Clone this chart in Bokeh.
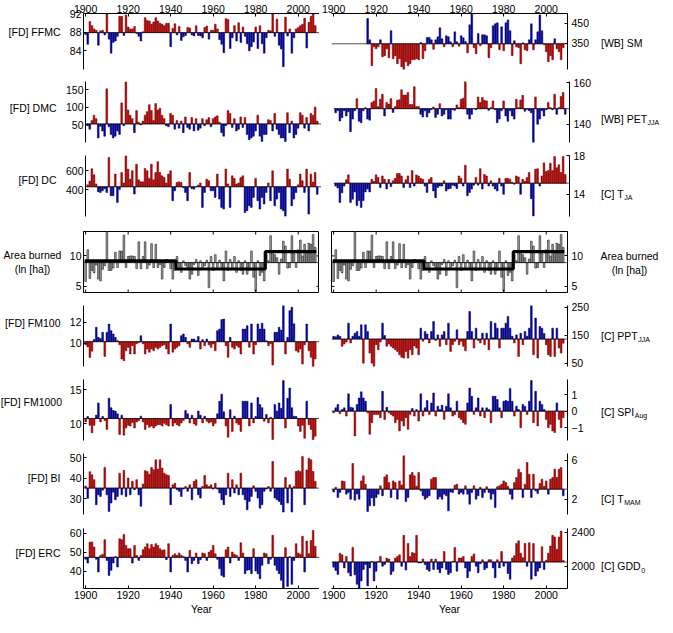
from bokeh.plotting import figure
from bokeh.layouts import row, column
from bokeh.models import Range1d, Span, FixedTicker
from bokeh.core.properties import value
from bokeh.embed import file_html
from bokeh.resources import INLINE

# ------------------------------------------------------------------ data
YEARS = list(range(1900, 2009))
SM_YEARS = list(range(1916, 2009))
XTICKS = [1900, 1920, 1940, 1960, 1980, 2000]

# [FD] FFMC anomalies (mean 87.9)
FFMC_MEAN = 87.9
FFMC = [-0.4, -2.5, 2.4, 1.5, 0.8, 0.5, -2.7, 0.4, 0.5, -0.5,
        4.4, -1.4, -4.4, -2.1, -1.8, -0.8, 3.5, 3.5, -0.6, 3.8,
        1.2, 0.8, 0.8, 1.3, -0.2, -0.8, -1.8, 0.2, 3.2, 2.6,
        2.5, 1.8, 2.3, 3.2, 2.5, 2.0, 1.8, 1.5, 2.0, 2.0,
        -3.0, 0.9, 1.9, -0.5, 1.3, -1.7, -0.9, -0.6, 1.1, 1.0,
        -0.5, -0.7, 1.5, -0.6, -0.7, -1.1, 1.1, 1.4, -1.4, 0.5,
        0.5, 1.8, 0.8, -1.5, -2.5, -4.3, 3.0, 2.8, -3.4, -1.1,
        1.5, -1.8, 2.1, -2.1, 1.2, -0.8, -2.4, -3.9, -3.0, -2.0,
        1.2, -3.4, 1.5, -2.4, -4.4, -1.1, 0.5, 0.4, 4.1, -0.8,
        2.9, -2.7, -3.5, -7.3, 3.3, -0.7, 0.8, -4.4, -1.1, 0.8,
        1.1, 1.5, 1.8, 3.1, -3.3, 2.2, 3.5, 4.1, 1.5]

# [WB] SM anomalies 1916-2008 (mean 348)
SM_MEAN = 348
SM = [127, 20, -110, -15,
      -25, -15, 20, -65, -60, -25, -70, 66, -75, -60,
      -100, -75, -115, -130, -90, -110, -100, -80, -80, -75,
      -80, 6, -75, -35, 32, 32, 20, -28, 20, 35,
      80, 25, -15, 40, 35, 10, -15, 60, 10, -12,
      40, 30, 12, -45, 95, 150, -20, -50, 52, -10,
      45, 45, 40, -70, -20, 90, 100, 105, -30, 85,
      -35, 105, 120, 65, -60, 15, -15, -20, -100, 5,
      -30, -35, 20, 100, -30, 20, 60, 145, 65, -5,
      -40, -90, -60, -80, 25, -25, -40, -80, -20]

# [FD] DMC anomalies (mean 53)
DMC_MEAN = 53
DMC = [-5, -15, 10, 25, 15, -40, -7, -20, -35, 100,
       -8, -30, -40, -35, -20, -30, 60, -5, 120, 40,
       25, 15, -25, 38, 5, -3, 8, 25, 35, 55,
       38, 10, 58, 40, 45, 25, 15, -5, -8, 30,
       25, -15, 10, -12, 8, -25, 20, -10, -15, 18,
       -20, 15, -18, -12, 15, -5, 12, 18, -8, 15,
       20, 23, 5, -25, -35, -5, 38, 30, -10, 15,
       -20, -15, 20, -10, 18, -30, -45, -40, -35, -20,
       25, -35, -50, -30, -30, 12, 10, -20, 30, -15,
       -30, -40, -40, -50, 32, -25, 8, -40, -30, -12,
       32, 25, -12, 18, -20, 30, 25, 48, 8]

# [WB] PET_JJA anomalies (mean 147.5)
PET_MEAN = 147.5
PET = [-2, -1, -5.9, -4.3, -1, -3.5, -1.5, -11, -5, -1,
       4.8, -6, -6.7, -1, 0.5, -5, -5.5, 2.9, 3.7, 9.7,
       1, 4.5, 6.9, -3.5, 3, 2.2, 4.8, -1.8, 1, 4,
       4.3, 9, 6.5, 6.5, 7.7, 2, 2, 10.5, 1, 1,
       -2.7, -4, -1, -4, -2, -0.5, 0.8, -4.2, -2.7, 2.4,
       -3.5, -2.7, -0.5, -5, -5, -0.5, -0.8, 1.8, 0.5, 4.5,
       5, 13, -2.7, -5, -2.7, 0, -0.5, 5.6, 3, 5.3,
       4, 3.7, -0.8, 0.5, 3.7, -0.5, -6.7, -5, -1, 3.7,
       -3.5, -6, -1, -3.5, -5, 4.5, 0.5, 4.2, 6.4, -1.2,
       -0.3, -1, -2, -16.3, 5.6, -7.5, -5, -1, -3.5, -0.5,
       3, 0.5, -0.5, 6.9, -2.7, 0.5, 5.8, 7.7, -2.7]

# [FD] DC anomalies (mean 430)
DC_MEAN = 430
DC = [20, 60, 190, 126, 30, -52, -60, -42, -20, -60,
      308, -95, -95, 133, -165, -30, 150, 40, 326, 186,
      80, 168, -77, 238, 73, 52, 52, 192, 168, 88,
      238, 73, 150, 263, 150, 115, 98, 40, 133, 168,
      -147, -42, 45, 52, 45, -10, -60, -147, 150, -20,
      -25, 0, 18, 40, -217, -60, 80, 63, -42, -42,
      -112, 133, -130, -217, -235, 186, 30, -217, 115, 88,
      28, 40, 98, 115, -270, -252, -200, -217, -112, 88,
      -147, -235, -112, -182, -60, 40, -147, 168, -200, -130,
      -60, -235, -252, -311, 186, 80, -200, -130, -60, 20,
      133, 63, -60, 186, -288, 133, 50, 150, -80]

# [C] T_JA anomalies (mean 15.14)
TJA_MEAN = 15.14
TJA = [-0.3, -0.5, -2.0, -1.0, -0.3, 0.35, 0.86, -2.0, -1.65, -0.9,
       -2.3, -1.8, -2.5, -1.8, -0.9, -0.6, -0.9, 0.4, 0.2, 0.86,
       0.6, -0.45, 0.75, 0.4, -0.6, 0.4, -0.35, 0.25, 0.5, 1.0,
       1.0, 0.75, -0.45, 0.35, 0.75, -0.45, 1.3, -0.3, 0.85, 0.75,
       0.5, 0.4, -0.3, -0.95, 0.4, 0.6, -0.8, -1.5, -0.45, -0.3,
       -0.3, 0.25, -0.8, -0.6, -0.55, -0.2, -0.3, -0.55, 0.75, 0.5,
       -0.3, 1.86, -1.3, -0.95, -0.6, -0.2, 0.6, -0.2, 1.5, -0.6,
       0.9, 0.75, -0.3, 0.25, -0.3, -0.6, -0.8, 0.5, -0.3, -1.15,
       0.5, 0.5, 0.4, 0.1, -0.1, 0.75, 0.65, -1.15, 0.4, 0.2,
       0.6, 1.1, -1.6, -3.4, 1.44, 1.5, -0.3, 0.75, 2.1, 1.2,
       1.3, 2.06, 1.3, 2.75, 1.6, 1.9, 1.1, 2.75, 0.9]

# Area burned, ln[ha] (values), with regime means
AREA_BASE = 8.9
AREA = [5.8, 11.0, 6.3, 7.6, 7.2, 8.5, 6.2, 5.9, 7.8, 8.4,
        14.0, 7.6, 7.6, 8.0, 10.6, 8.1, 10.8, 10.8, 13.4, 8.1,
        9.9, 10.0, 10.0, 9.9, 7.9, 12.3, 7.9, 9.9, 12.3, 7.9,
        8.5, 12.0, 8.1, 11.9, 8.1, 8.6, 6.2, 8.1, 9.4, 9.0,
        7.9, 6.2, 7.6, 9.9, 8.1, 7.3, 9.2, 8.4, 7.9, 6.2,
        7.0, 8.6, 9.4, 6.8, 9.2, 7.9, 8.4, 9.3, 4.8, 9.9,
        7.6, 10.2, 7.9, 9.3, 8.1, 5.9, 10.8, 7.6, 9.4, 7.9,
        9.9, 7.3, 9.2, 7.6, 7.0, 9.2, 7.0, 7.6, 10.8, 6.5,
        4.2, 9.2, 6.8, 7.3, 5.9, 10.2, 9.2, 13.3, 10.8, 10.2,
        9.7, 7.0, 9.5, 12.4, 11.6, 8.0, 8.1, 13.3, 10.5, 8.1,
        11.0, 12.6, 10.0, 11.9, 10.5, 12.1, 11.9, 13.5, 11.4]
AREA_STEP_EDGES = [1899.5, 1942.5, 1984.5, 2008.5]
AREA_STEP_LEVELS = [9.2, 7.85, 10.7]

# [FD] FM100 anomalies (mean 10.16)
FM100_MEAN = 10.16
FM100 = [-0.3, -0.5, -1.5, -0.9, 0.2, 1.37, 0.41, 0.3, 0.89, -1.4,
         0.89, 1.68, 1.05, 0.73, 0.41, 0.1, -0.3, -1.65, -1.81, -0.86,
         -0.54, -1.17, -0.38, -1.17, -0.2, -0.1, 0.57, -0.2, -1.17, -0.7,
         -1.0, -0.7, -0.86, -0.54, -0.7, -0.54, -0.38, -0.3, -0.7, -1.17,
         1.68, -1.0, -0.7, -0.54, -0.38, 0.57, 0.73, 0.41, -0.2, -0.54,
         0.25, 0.25, 0.1, 0.5, -0.7, 0.19, -0.38, 0.25, -0.3, -0.54,
         -0.22, -0.86, 1.05, 1.2, 2.1, 2.16, -0.38, -1.49, 0.41, -0.54,
         -0.7, -0.38, -0.54, -1.17, 1.2, 1.2, 1.52, -0.54, 1.68, -1.17,
         -0.3, 1.68, 1.2, 1.75, 1.2, 0.1, -0.38, -0.2, -2.22, 0.89,
         0.89, 1.37, 1.1, 3.43, -1.17, 0.4, 2.95, 3.27, 1.7, -0.86,
         -1.0, -0.7, -2.13, -0.3, 1.68, -0.86, -1.49, -2.44, -1.65]

# [C] PPT_JJA anomalies (mean 137)
PPT_MEAN = 137
PPT = [10, 8, 15, 10, -26, -18, -10, 57, -14, 10,
       21, 27, 10, 51, -86, 51, 27, -50, -86, -98,
       -20, -38, -10, 57, 13, -26, -18, -26, -32, -38,
       -44, -56, -65, -68, -44, -68, -38, -56, -25, -32,
       -56, 39, -8, 27, 18, -14, 27, 63, -5, 15,
       -26, 15, 27, -20, 57, -44, -20, -8, 33, -20,
       -8, -26, -42, 27, 99, 27, -32, 39, -5, -14,
       21, -20, 21, -38, 63, 5, 57, 39, -32, 39,
       39, 57, 81, 39, 10, -14, 15, -62, 21, -20,
       27, 10, 39, 122, -56, 75, -68, 45, 39, 20,
       -20, -56, -62, 39, -62, 39, -32, -50, -15]

# [FD] FM1000 anomalies (mean 10.74)
FM1000_MEAN = 10.74
FM1000 = [-0.5, 0.3, -1.0, -2.1, -1.0, 0.5, 2.3, -0.5, 0.3, -0.3,
          -1.6, 3.0, 1.6, 1.2, 1.1, 0.7, -2.35, 0.5, -2.45, -1.4,
          -1.0, -1.1, -0.6, -1.4, -0.5, -0.3, 0.35, -0.5, -1.6, -0.9,
          -1.3, -1.1, -1.4, -1.1, -0.9, -0.9, -1.1, -0.7, -0.9, -1.1,
          2.06, -1.1, -0.65, -0.9, -1.1, -0.65, -0.3, 1.2, 0.7, -0.65,
          0.5, -0.8, -1.0, 1.1, 0.5, -0.65, 0.35, -0.4, -0.65, -0.5,
          -1.1, -0.7, 0.7, 2.55, 3.6, 1.0, -1.1, -2.75, 1.3, -1.9,
          0.35, -0.65, -0.9, -1.9, 2.55, 2.55, 2.55, -1.1, 2.3, -0.65,
          0.3, 3.1, 2.06, 1.6, -0.4, 0.6, -0.65, 0.2, -3.1, 2.06,
          1.1, 2.3, 1.5, 5.6, -1.4, 3.0, 4.5, 1.6, 0.35, 0.3,
          -1.1, -1.9, -1.0, -2.9, 2.55, -0.9, -1.6, -3.1, -2.6]

# [C] SPI_Aug
SPI_MEAN = 0.0
SPI = [-0.1, 0.2, 0.4, -0.16, 0.1, 0.2, -0.3, 1.05, 0.24, 0.2,
       -1.5, 0.4, 0.8, 1.17, 0.8, 0.6, -0.1, -1.4, -0.7, -0.2,
       -0.2, -0.2, -0.4, 1.2, -0.5, 0.24, -0.1, -0.2, -0.3, -0.7,
       -0.5, -1.2, -0.6, -0.9, -0.4, -1.1, -0.2, 0.16, -0.3, 0.1,
       -0.6, 1.05, -0.3, 0.2, 0.65, -0.2, 0.5, 1.1, -0.3, 0.3,
       0.1, 0.36, -0.5, 0.3, 1.05, 0.2, -0.3, -0.2, 0.6, -0.4,
       -0.5, -0.7, -0.8, 0.5, 1.4, 0.9, -0.2, 0.2, 0.8, -0.3,
       0.2, -0.4, 0.2, 0.1, -0.7, 0.9, 0.9, 0.7, 0.2, -0.4,
       0.6, 0.65, 0.6, 1.37, 0.6, -0.3, 0.3, 0.1, -1.0, 0.4,
       0.3, -0.2, 0.6, 1.86, -0.7, 1.2, -0.9, 0.6, 0.4, 0.1,
       -0.5, -1.0, -0.8, -1.2, -1.3, 0.5, -0.5, -1.0, -0.4]

# [FD] BI anomalies (mean 35.1)
BI_MEAN = 35.1
BI = [1.0, -5.0, 8.0, 6.5, 4.1, -8.1, -3.3, -4.1, -1.0, 10.1,
      -3.3, -11.4, -7.3, -2.0, -5.7, -4.1, 7.3, -3.3, 8.6, -4.1,
      4.9, -3.3, 3.3, -0.8, 4.1, -3.3, -8.9, 2.0, 8.5, 8.1,
      6.8, 10.1, 9.0, 13.8, 9.3, 13.8, 9.8, 7.3, 6.5, 6.2,
      -8.1, 1.6, 2.4, -0.8, -1.6, -4.1, -0.5, 0.8, -1.6, 1.6,
      -5.7, 3.3, 4.1, -3.3, -4.9, 0.8, 6.2, 1.6, 0.8, 1.6,
      -0.5, 2.4, -0.5, -2.4, -5.7, -8.1, -3.3, 7.3, -4.1, 4.1,
      -2.4, 1.6, -3.3, 7.3, -3.3, -5.7, -10.6, -6.5, -4.1, 1.1,
      -1.6, -4.9, -9.8, -8.1, -1.6, -0.5, 0.8, -1.6, 13.0, -4.9,
      -5.7, -6.5, -8.1, -11.7, 5.2, -7.3, 1.6, -11.7, 0.8, 8.1,
      8.5, 8.1, 15.4, -8.1, 8.9, 14.6, 13.8, 8.1, 3.3]

# [C] T_MAM anomalies (mean 3.03)
TMAM_MEAN = 3.03
TMAM = [-0.3, 0.2, -0.85, -0.34, 0.85, 0.79, -0.51, -0.34, -1.03, 2.63,
        -1.13, -0.5, -1.03, 0.85, 1.37, 0.51, -2.29, -1.71, -0.9, -1.71,
        -0.85, -0.51, 0.34, -0.68, 1.26, 1.47, 0.68, -0.85, 0.85, 0.68,
        -1.03, 0.85, 0.44, 3.42, -1.26, -0.85, 1.47, 1.71, 1.37, 0.3,
        1.71, -0.17, -0.68, -1.03, -0.85, -0.68, 1.03, 1.2, 1.2, -1.03,
        -0.79, -1.03, -0.51, -0.68, -2.22, -0.3, -0.34, 0.41, 0.51, -0.51,
        -0.34, -0.51, 0.34, -0.51, -1.54, -0.34, 0.34, -1.03, -0.68, 0.2,
        -0.85, -0.34, 0.24, -0.34, -1.03, -0.5, -1.88, 0.24, 0.34, 0.51,
        0.85, 0.68, 0.3, -0.51, -1.03, 0.68, 1.2, 2.05, 1.71, -0.85,
        0.51, 2.74, 1.54, -0.85, 1.54, -0.17, -0.44, 0.58, 1.03, 0.3,
        0.85, -0.51, 1.03, 1.2, 2.05, 1.2, 2.05, 2.22, -0.68]

# [FD] ERC anomalies (mean 47.4)
ERC_MEAN = 47.4
ERC = [-1.0, -3.0, 8.0, 8.1, 5.4, -1.0, -7.7, 1.05, 1.6, 9.3,
       -1.6, -9.5, -6.8, -3.0, 0.5, -5.1, 9.8, 9.3, 12.1, 6.3,
       4.6, 4.6, -3.0, 6.3, 1.05, -1.6, 1.0, 4.0, 5.4, 7.2,
       4.6, 6.8, 5.4, 7.2, 6.3, 4.6, 3.7, 4.0, -1.2, 7.2,
       -7.7, 1.05, 1.9, 1.05, 2.3, 1.05, 0.5, -1.6, -7.7, 3.7,
       -3.3, -1.6, 2.3, -3.3, -1.2, 2.3, 1.9, -1.6, 2.8, 3.7,
       6.3, 1.9, -1.0, -6.0, -9.5, -10.4, 4.0, 5.4, -3.0, 2.8,
       1.6, 1.05, -1.6, 7.7, 2.3, -8.6, -6.8, -6.6, -8.6, 4.6,
       -7.2, -8.6, -11.2, -4.2, 2.3, 1.9, -3.3, -1.0, 11.6, -4.2,
       -6.8, -8.6, -12.1, -18.2, 5.1, -15.3, 0.5, -14.2, -1.6, 7.2,
       2.3, 1.6, 11.1, -7.7, 8.6, 1.9, 8.9, 14.2, 5.8]

# [C] GDD_0 anomalies (mean 2050)
GDD_MEAN = 2050
GDD = [-60, -100, -145, 103, 84, -69, 65, -126, -164, 171,
       -150, -259, -335, -221, -88, -30, -278, -69, 8, -221,
       -107, 8, 65, -50, -30, 46, 34, -145, -107, 46,
       65, 84, -50, 312, -95, 217, 65, 110, 103, 312,
       -11, -11, 34, -30, -88, -107, 34, -88, 34, -88,
       -126, -69, 122, -88, -145, -126, 8, 171, -107, 46,
       46, 65, -69, -183, -107, 65, 95, -50, -126, -20,
       27, -88, -69, 27, 27, -69, -183, 27, -69, 122,
       -50, -11, -134, -202, 46, 72, 217, 248, 103, 50,
       217, -50, 225, -202, 217, -164, -107, -69, 179, -88,
       20, 103, 187, 312, 293, 149, 293, 362, 19]

LEFT = [
    dict(kind="bar", years=YEARS, base=FFMC_MEAN, vals=FFMC, ylim=(80, 92), ticks=[84, 88, 92], red_pos=True),
    dict(kind="bar", years=YEARS, base=DMC_MEAN, vals=DMC, ylim=(0, 174), ticks=[50, 100, 150], red_pos=True),
    dict(kind="bar", years=YEARS, base=DC_MEAN, vals=DC, ylim=(117, 759), ticks=[400, 600], red_pos=True),
    dict(kind="area", years=YEARS, base=AREA_BASE, vals=AREA, ylim=(4, 14), ticks=[5, 10]),
    dict(kind="bar", years=YEARS, base=FM100_MEAN, vals=FM100, ylim=(7.8, 13.6), ticks=[10, 12], red_pos=False),
    dict(kind="bar", years=YEARS, base=FM1000_MEAN, vals=FM1000, ylim=(7.5, 16.5), ticks=[10, 15], red_pos=False),
    dict(kind="bar", years=YEARS, base=BI_MEAN, vals=BI, ylim=(22.2, 52), ticks=[30, 40, 50], red_pos=True),
    dict(kind="bar", years=YEARS, base=ERC_MEAN, vals=ERC, ylim=(31, 62.6), ticks=[40, 50, 60], red_pos=True),
]
RIGHT = [
    dict(kind="bar", years=SM_YEARS, base=SM_MEAN, vals=SM, ylim=(219, 500), ticks=[350, 450], red_pos=False),
    dict(kind="bar", years=YEARS, base=PET_MEAN, vals=PET, ylim=(131.3, 160.5), ticks=[140, 160], red_pos=True),
    dict(kind="bar", years=YEARS, base=TJA_MEAN, vals=TJA, ylim=(11.7, 18), ticks=[14, 18], red_pos=True),
    dict(kind="area", years=YEARS, base=AREA_BASE, vals=AREA, ylim=(4, 14), ticks=[5, 10]),
    dict(kind="bar", years=YEARS, base=PPT_MEAN, vals=PPT, ylim=(39, 257), ticks=[50, 150, 250], red_pos=False),
    dict(kind="bar", years=YEARS, base=SPI_MEAN, vals=SPI, ylim=(-1.78, 1.92), ticks=[-1, 0, 1], red_pos=False),
    dict(kind="bar", years=YEARS, base=TMAM_MEAN, vals=TMAM, ylim=(0.43, 6.69), ticks=[2, 6], red_pos=True),
    dict(kind="bar", years=YEARS, base=GDD_MEAN, vals=GDD, ylim=(1740, 2442), ticks=[2000, 2400], red_pos=True),
]

# panel names: (text, subscript, vertical position on the page in px)
LEFT_NAMES = [("[FD] FFMC", None, 39.5), ("[FD] DMC", None, 115), ("[FD] DC", None, 187),
              ("Area burned", "(ln [ha])", 262.5), ("[FD] FM100", None, 330),
              ("[FD] FM1000", None, 409), ("[FD] BI", None, 485.5), ("[FD] ERC", None, 560)]
RIGHT_NAMES = [("[WB] SM", None, 50.5), ("[WB] PET", "JJA", 126), ("[C] T", "JA", 201),
               ("Area burned", "(ln [ha])", 263.5), ("[C] PPT", "JJA", 343),
               ("[C] SPI", "Aug", 419), ("[C] T", "MAM", 506), ("[C] GDD", "0", 573.5)]

# ------------------------------------------------------------------ style / layout
FONT = "Liberation Sans"
FS = "10.5px"
SUB_FS = "7px"
RED, RED_EDGE = "#cc0000", "#5c0000"
BLUE, BLUE_EDGE = "#0000b8", "#00004c"
GREY, GREY_EDGE = "#a2a2a2", "#000000"
XLIM = (1899, 2010)
FW = 236
BT = [13, 7, 7, 8, 7, 7, 7, 7]
FH = [56, 61, 61, 61, 61, 61, 61, 60]
BB = [5, 6, 7, 6, 6, 6, 7, 27]
TOTAL_H = sum(BT) + sum(FH) + sum(BB)
LABEL_W = 62
LEFT_MB = 21
TICK_PX = 3
NAME_RIGHT_EDGE = [60, 56, 56, 0, 60, 61.5, 60, 60]

CW = {'[': 278, ']': 278, ' ': 278, '(': 333, ')': 333, 'A': 667, 'B': 667, 'C': 722,
      'D': 722, 'E': 667, 'F': 611, 'G': 778, 'I': 278, 'J': 500, 'M': 833, 'P': 667,
      'S': 667, 'T': 611, 'W': 944, 'a': 556, 'b': 556, 'd': 556, 'e': 556, 'g': 556,
      'h': 556, 'l': 222, 'n': 556, 'r': 333, 'u': 556}


def text_width(s, px):
    return sum(CW.get(c, 556) for c in s) * px / 1000.0


def style_axis(ax, ticks, standoff):
    ax.ticker = FixedTicker(ticks=ticks)
    ax.major_tick_in = TICK_PX
    ax.major_tick_out = 0
    ax.minor_tick_in = 0
    ax.minor_tick_out = 0
    ax.major_tick_line_color = "black"
    ax.axis_line_color = "black"
    ax.major_label_standoff = standoff
    ax.major_label_text_font = FONT
    ax.major_label_text_color = "black"
    ax.major_label_text_font_size = FS


def make_panel(i, side, spec):
    is_area = spec["kind"] == "area"
    if side == "L":
        mbl, mbr, yloc = LEFT_MB, 0, "left"
    else:
        mbl, mbr, yloc = 12, 28, "right"
    xloc = "above" if i == 0 else ("below" if i == 7 else None)
    y0, y1 = spec["ylim"]
    p = figure(frame_width=FW, frame_height=FH[i],
               x_range=Range1d(*XLIM), y_range=Range1d(y0, y1),
               x_axis_location=xloc, y_axis_location=yloc,
               toolbar_location=None, output_backend="svg",
               min_border_left=mbl, min_border_right=mbr,
               min_border_top=BT[i], min_border_bottom=BB[i])
    p.xgrid.visible = False
    p.ygrid.visible = False
    p.outline_line_color = "black" if is_area else None
    p.background_fill_color = "white"
    p.border_fill_color = "white"
    style_axis(p.yaxis[0], spec["ticks"], 2 if side == "L" else 4)
    if xloc is not None:
        style_axis(p.xaxis[0], XTICKS, 1 if i == 0 else 2)
        if i == 7:
            ax = p.xaxis[0]
            ax.axis_label = "Year"
            ax.axis_label_standoff = 1
            ax.axis_label_text_font = FONT
            ax.axis_label_text_font_size = FS
            ax.axis_label_text_font_style = "normal"
            ax.axis_label_text_color = "black"

    base = spec["base"]
    vals = spec["vals"]
    if is_area:
        tops = vals
        fills = [GREY] * len(vals)
        edges = [GREY_EDGE] * len(vals)
    else:
        tops = [base + v for v in vals]
        red = [(v > 0) if spec["red_pos"] else (v < 0) for v in vals]
        fills = [RED if r else BLUE for r in red]
        edges = [RED_EDGE if r else BLUE_EDGE for r in red]
    p.vbar(x=spec["years"], width=0.8, bottom=base, top=tops,
           fill_color=fills, line_color=edges, line_width=0.5)
    p.add_layout(Span(location=base, dimension="width", line_color="black", line_width=0.7))

    if is_area:
        p.step(x=AREA_STEP_EDGES, y=AREA_STEP_LEVELS + [AREA_STEP_LEVELS[-1]],
               mode="after", line_width=3.2, line_color="black")
        dy = TICK_PX * (y1 - y0) / FH[i]
        dx = TICK_PX * (XLIM[1] - XLIM[0]) / FW
        n = len(XTICKS)
        p.segment(x0=XTICKS, x1=XTICKS, y0=[y0] * n, y1=[y0 + dy] * n, line_color="black", line_width=1)
        p.segment(x0=XTICKS, x1=XTICKS, y0=[y1] * n, y1=[y1 - dy] * n, line_color="black", line_width=1)
        m = len(spec["ticks"])
        xe = XLIM[1] if side == "L" else XLIM[0]
        xi = xe - dx if side == "L" else xe + dx
        p.segment(x0=[xe] * m, x1=[xi] * m, y0=spec["ticks"], y1=spec["ticks"], line_color="black", line_width=1)
    return p


def label_fig():
    f = figure(width=LABEL_W, height=TOTAL_H, x_range=Range1d(0, LABEL_W), y_range=Range1d(TOTAL_H, 0),
               x_axis_location=None, y_axis_location=None, toolbar_location=None,
               output_backend="svg", min_border=0)
    f.outline_line_color = None
    f.xgrid.visible = False
    f.ygrid.visible = False
    f.background_fill_color = "white"
    f.border_fill_color = "white"
    return f


def put_text(f, x, y, s, size=FS, align="left"):
    f.text(x=[x], y=[y - 8], text=[s], text_font=value(FONT), text_font_size=value(size),
           text_align=align, text_baseline="middle", text_color="black")


fl = label_fig()
fr = label_fig()
for i in range(8):
    main, sub, y = LEFT_NAMES[i]
    if LEFT[i]["kind"] == "area":
        put_text(fl, 32, y, main, align="center")
        put_text(fl, 32, y + 14, sub, align="center")
    else:
        put_text(fl, NAME_RIGHT_EDGE[i], y, main, align="right")
    main, sub, y = RIGHT_NAMES[i]
    if RIGHT[i]["kind"] == "area":
        put_text(fr, 32, y, main, align="center")
        put_text(fr, 32, y + 14, sub, align="center")
    else:
        put_text(fr, 3.5, y, main)
        if sub:
            put_text(fr, 3.5 + text_width(main, 10.5) + 0.5, y + 4, sub, size=SUB_FS)

panel_rows = [row(make_panel(i, "L", LEFT[i]), make_panel(i, "R", RIGHT[i])) for i in range(8)]
layout = row(fl, column(*panel_rows), fr)
open("out.html", "w").write(file_html(layout, INLINE))
